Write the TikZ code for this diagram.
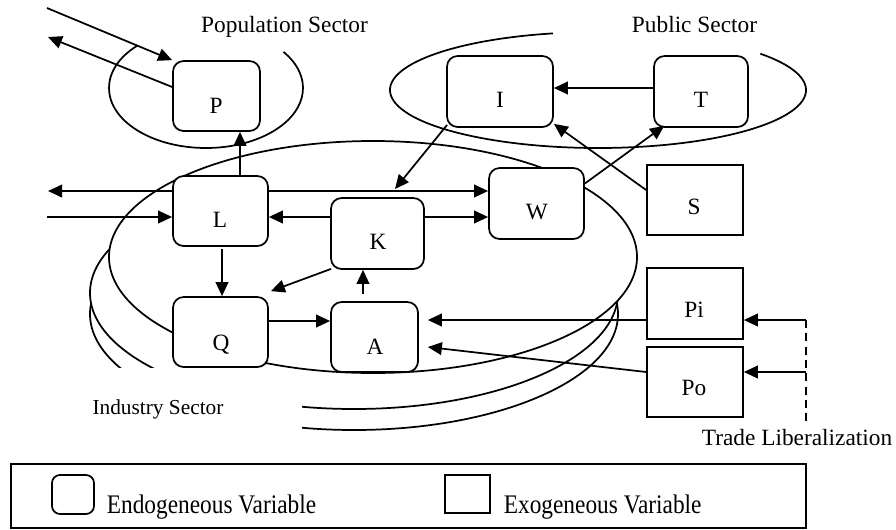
\documentclass[tikz,border=0pt]{standalone}
\usepackage{fontspec}
\setmainfont{Liberation Serif}
\usetikzlibrary{arrows.meta,calc}
\begin{document}
\begin{tikzpicture}[x=0.75pt,y=-0.75pt, line width=1.3pt,
  endo/.style={draw, fill=white, rounded corners=8pt, inner sep=0pt, minimum height=52.5pt},
  exo/.style={draw, fill=white, inner sep=0pt, minimum height=52.5pt, minimum width=72pt},
  lbl/.style={font=\fontsize{17.5}{20}\selectfont, inner sep=0pt, anchor=base},
  arr/.style={-{Triangle[length=10.5pt,width=9.5pt]}},
  sect/.style={draw, fill=white}
]
\useasboundingbox (0,0) rectangle (896,529);

% industry sector ellipses (stacked)
\draw[sect] (354,314) ellipse [x radius=198pt, y radius=87pt];
\draw[sect] (354,293) ellipse [x radius=198pt, y radius=87pt];
\fill[white] (60,368) rectangle (302,445);
\draw[sect] (373,257) ellipse [x radius=198pt, y radius=87pt];
\node[lbl, font=\fontsize{16}{18}\selectfont] (indsec) at (158,414) {Industry Sector};

% population and public sector ellipses (open at top)
\draw ([shift={(135:72.75pt and 45pt)}]206,88) arc[start angle=135, end angle=397, x radius=72.75pt, y radius=45pt];
\draw ([shift={(102.5:156pt and 43.5pt)}]598,90) arc[start angle=102.5, end angle=398.7, x radius=156pt, y radius=43.5pt];
\node[lbl] (popsec) at (284.5,32) {Population Sector};
\node[lbl] (pubsec) at (694.5,32) {Public Sector};

% variables
\node[endo, minimum width=65.25pt] (P) at (216.5,96) {};
\node[endo, minimum width=79.5pt, minimum height=53.25pt] (I) at (500,91.5) {};
\node[endo, minimum width=70.5pt, minimum height=53.25pt] (T) at (701,91.5) {};
\node[endo, minimum width=71.25pt] (L) at (220.5,211) {};
\node[endo, minimum width=69.75pt, minimum height=53.25pt] (K) at (377.5,233.5) {};
\node[endo, minimum width=71.25pt] (Q) at (220.5,332) {};
\node[endo, minimum width=65.25pt] (A) at (374.5,337) {};
\node[endo, minimum width=71.25pt, minimum height=53.25pt] (W) at (536.5,203.5) {};
\node[exo] (S) at (695,200) {};
\node[exo, minimum height=53.25pt] (Pi) at (695,303.5) {};
\node[exo] (Po) at (695,382) {};

\node[lbl] (Pt) at (216,113) {P};
\node[lbl] (It) at (500,107) {I};
\node[lbl] (Tt) at (701,107) {T};
\node[lbl] (Lt) at (220,227) {L};
\node[lbl] (Kt) at (378,249) {K};
\node[lbl] (Qt) at (221,350) {Q};
\node[lbl] (At) at (375,354) {A};
\node[lbl] (Wt) at (537,219) {W};
\node[lbl] (St) at (694,214) {S};
\node[lbl] (Pit) at (694,317) {Pi};
\node[lbl] (Pot) at (694,395) {Po};

% free ends
\coordinate (inP) at (47,8);
\coordinate (outP) at (48,37);
\coordinate (outL) at (48,191);
\coordinate (inL) at (47,217);
\coordinate (IK) at (395,189);
\coordinate (TL1) at (806,320);
\coordinate (TL2) at (806,372);
\coordinate (TL3) at (806,425);

% connectors
\draw[arr] (inP) -- (P.north west);
\draw[arr] ($(P.west)+(0,-9)$) -- (outP);
\draw[arr] ($(L.north)+(19.5,0)$) -- ($(P.south)+(23.5,0)$);
\draw[arr] ($(L.west)+(0,-20)$) -- (outL);
\draw[arr] (inL) -- ($(L.west)+(0,6)$);
\draw[arr] ($(L.east)+(0,-20)$) -- ($(W.west)+(0,-12.5)$);
\draw[arr] ($(K.west)+(0,-16.5)$) -- ($(L.east)+(0,6)$);
\draw[arr] ($(K.east)+(0,-16.5)$) -- ($(W.west)+(0,13.5)$);
\draw[arr] ($(I.south west)+(1,-3)$) -- (IK);
\draw[arr] ($(S.west)+(0,-10)$) -- ($(I.south east)+(0,-4)$);
\draw[arr] ($(W.east)+(0,-20)$) -- ($(T.south west)+(11,-2)$);
\draw[arr] ($(T.west)+(0,-3.5)$) -- ($(I.east)+(0,-3.5)$);
\draw[arr] ($(L.south)+(1.5,2)$) -- ($(Q.north)+(1.5,0)$);
\draw[arr] ($(K.south west)+(1,-1)$) -- ($(Q.north east)+(2,-5)$);
\draw[arr] ($(A.north)+(-11.5,-7)$) -- ($(K.south)+(-14.5,0)$);
\draw[arr] ($(Q.east)+(0,-11)$) -- ($(A.west)+(0,-16)$);
\draw[arr] ($(Pi.west)+(0,16.5)$) -- ($(A.east)+(9,-17)$);
\draw[arr] ($(Po.west)+(0,-10)$) -- ($(A.east)+(9,10)$);
\draw[dash pattern=on 6pt off 4pt] (TL1) -- (TL3);
\draw[arr] (TL1) -- ($(Pi.east)+(0,16.5)$);
\draw[arr] (TL2) -- ($(Po.east)+(0,-10)$);
\node[lbl] (tradelib) at (797,445) {Trade Liberalization};

% legend
\node[draw, inner sep=0pt, minimum width=596.25pt, minimum height=48pt] (legend) at (408.5,496) {};
\node[endo, rounded corners=6pt, minimum width=31.5pt, minimum height=29.25pt] (legendo) at (73,494.5) {};
\node[exo, minimum width=33.75pt, minimum height=28.5pt] (legexo) at (467.5,494) {};
\node[lbl, anchor=base west] (legendotxt) at (106,513) {\scalebox{1}[1.15]{Endogeneous Variable}};
\node[lbl, anchor=base west] (legexotxt) at (503,513) {\scalebox{1}[1.15]{Exogeneous Variable}};
\end{tikzpicture}
\end{document}
